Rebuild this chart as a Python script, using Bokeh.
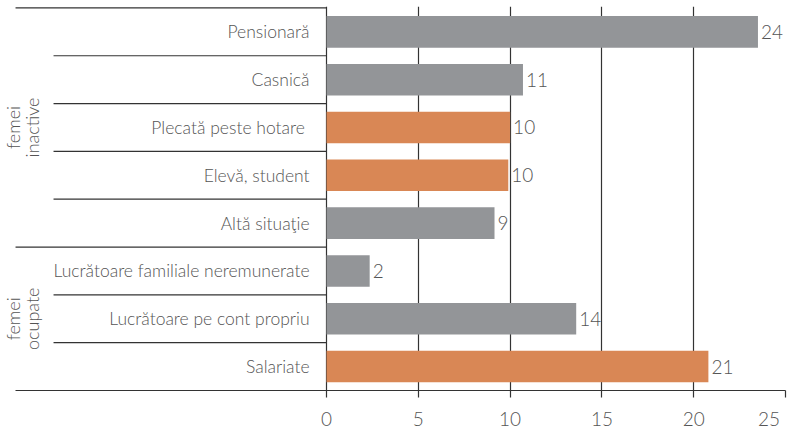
import math
from bokeh.plotting import figure
from bokeh.models import Range1d, FixedTicker, ColumnDataSource
from bokeh.core.properties import value
from bokeh.embed import file_html
from bokeh.resources import INLINE

categories = ["Pensionară", "Casnică", "Plecată peste hotare ", "Elevă, student",
              "Altă situaţie", "Lucrătoare familiale neremunerate",
              "Lucrătoare pe cont propriu", "Salariate"]
values = [23.5, 10.7, 10.0, 9.9, 9.15, 2.35, 13.6, 20.8]
value_labels = ["24", "11", "10", "10", "9", "2", "14", "21"]
highlight = [False, False, True, True, False, False, False, True]
groups = ["femei\ninactive", "femei\nocupate"]
group_rows = [(0, 5), (5, 8)]
x_ticks = [0, 5, 10, 15, 20, 25]

GRAY = "#939598"
ORANGE = "#D98755"
TEXT = "#555555"
LINE = "#333333"
FONT_NAME = "Lato Light"
FONT = value(FONT_NAME)

n = len(categories)
ys = [n - 0.5 - i for i in range(n)]
colors = [ORANGE if h else GRAY for h in highlight]

X_FRAME = -17.65   # frame left edge (room for the group labels)
X_LONG = -16.94    # start of long separator lines
X_SHORT = -14.87   # start of short separator lines

p = figure(frame_width=783, frame_height=384, output_backend="svg", toolbar_location=None,
           x_range=Range1d(X_FRAME, 25), y_range=Range1d(0, n + 0.03),
           min_border_left=2, min_border_right=4, min_border_top=6,
           min_border_bottom=0)
p.outline_line_color = None
p.background_fill_color = None
p.border_fill_color = "white"

src = ColumnDataSource(dict(y=ys, v=values, c=colors, lab=value_labels, cat=categories))

p.hbar(y="y", left=0, right="v", height=0.66, fill_color="c", line_color=None, source=src)
p.text(x="v", y="y", text="lab", source=src, x_offset=3, text_align="left",
       text_baseline="middle", text_font=FONT, text_font_size="19px", text_color=TEXT)
p.text(x=0, y="y", text="cat", source=src, x_offset=-17, text_align="right",
       text_baseline="middle", text_font=FONT, text_font_size="17.5px", text_color=TEXT)

# separators
boundaries = []
for gi, (a, b) in enumerate(group_rows):
    boundaries.append((n - a, X_LONG))
    for r in range(a + 1, b):
        boundaries.append((n - r, X_SHORT))
p.segment(x0=[b[1] for b in boundaries], x1=[0] * len(boundaries),
          y0=[b[0] for b in boundaries], y1=[b[0] for b in boundaries],
          line_color=LINE, line_width=1.2)

# group labels
gy = [n - (a + b) / 2 for a, b in group_rows]
p.text(x=[-16.56] * len(groups), y=gy, text=groups, angle=math.pi / 2,
       text_align="center", text_baseline="middle", text_font=FONT,
       text_font_size="18px", text_color=TEXT, text_line_height=0.85)

p.yaxis.visible = False
p.ygrid.visible = False
p.xgrid.ticker = FixedTicker(ticks=x_ticks)
p.xgrid.grid_line_color = LINE
p.xgrid.grid_line_width = 1.2
p.xgrid.grid_line_alpha = 1
p.xgrid.level = "underlay"

ax = p.xaxis[0]
ax.ticker = FixedTicker(ticks=x_ticks)
ax.bounds = (X_LONG, 25)
ax.axis_line_color = LINE
ax.axis_line_width = 1.2
ax.major_tick_line_color = LINE
ax.major_tick_line_width = 1.2
ax.major_tick_in = 0
ax.major_tick_out = 7
ax.minor_tick_line_color = None
ax.major_label_text_font = FONT_NAME
ax.major_label_text_font_size = "19px"
ax.major_label_text_color = TEXT
ax.major_label_standoff = 9
# nudge the last label left so it stays inside the page, as in the original
ax.major_label_overrides = {25: "25\u2002"}

open("out.html", "w").write(file_html(p, INLINE))
